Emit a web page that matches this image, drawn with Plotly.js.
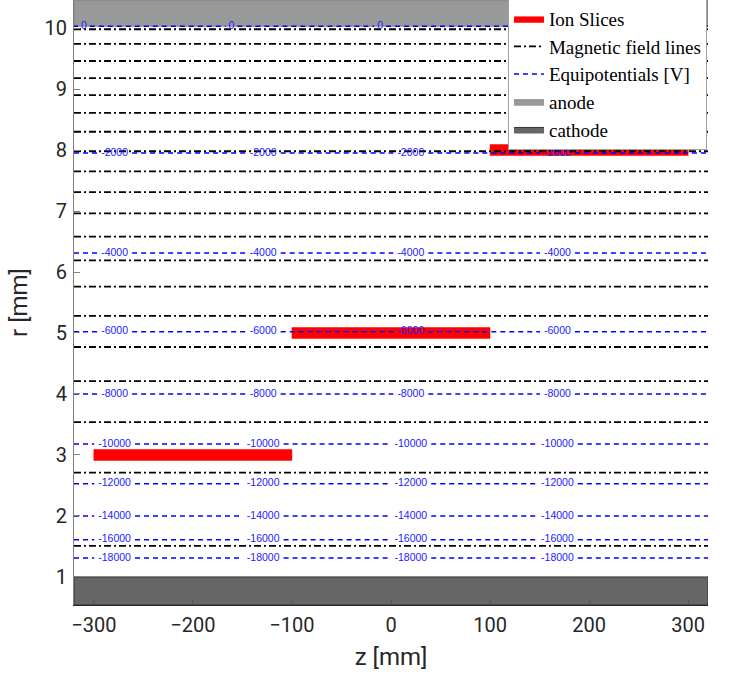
<!DOCTYPE html>
<html>
<head>
<meta charset="utf-8">
<script src="https://cdn.plot.ly/plotly-3.0.1.min.js"></script>
<style>html,body{margin:0;padding:0;background:#fff;} #chart{width:740px;height:674px;}</style>
</head>
<body>
<div id="chart"></div>
<script>
// ---- data ----
const zRange = [-320, 320];                 // axial extent [mm]
const rRange = [0.54, 10.46];               // radial extent [mm]
const anodeR = [10.03, 10.46];
const cathodeR = [0.54, 1.0];

const ionZStart = [-300, -100, 100];
const ionZEnd = [-100, 100, 300];
const ionR = [3.0, 5.0, 8.0];
const ionHalfThickness = 0.09;

const fieldR = [9.98, 9.74, 9.46, 9.18, 8.90, 8.61, 8.30, 7.98, 7.65, 7.31,
                6.96, 6.58, 6.19, 5.76, 5.28, 4.77, 4.21, 3.54, 2.71, 1.51];

const potLevels = [0, -2000, -4000, -6000, -8000, -10000, -12000, -14000, -16000, -18000];
const potR = [10.03, 7.95, 6.31, 5.02, 4.00, 3.18, 2.53, 2.00, 1.61, 1.31];
const labelZZero = [-310, -161, -11, 138];
const labelZOther = [-279, -129, 20, 168];

const xTicks = [-300, -200, -100, 0, 100, 200, 300];
const yTicks = [1, 2, 3, 4, 5, 6, 7, 8, 9, 10];

// ---- build traces ----
function rectPoly(z0, z1, r0, r1) {
  return {x: [z0, z1, z1, z0, z0], y: [r0, r0, r1, r1, r0]};
}
const anodePoly = rectPoly(zRange[0], zRange[1], anodeR[0], anodeR[1]);
const cathodePoly = rectPoly(zRange[0], zRange[1], cathodeR[0], cathodeR[1]);

const ionX = [], ionY = [];
for (let i = 0; i < ionR.length; i++) {
  const p = rectPoly(ionZStart[i], ionZEnd[i], ionR[i] - ionHalfThickness, ionR[i] + ionHalfThickness);
  ionX.push(...p.x, null); ionY.push(...p.y, null);
}

const fieldX = [], fieldY = [];
fieldR.forEach(r => { fieldX.push(zRange[0], zRange[1], null); fieldY.push(r, r, null); });

// equipotential lines, broken where their labels sit
const pxPerZ = 634 / (zRange[1] - zRange[0]);
const potX = [], potY = [], labX = [], labY = [], labT = [];
potLevels.forEach((v, i) => {
  const txt = String(v);
  const hw = (txt.length * 5.8 / 2 + 3) / pxPerZ;
  const lz = v === 0 ? labelZZero : labelZOther;
  let start = zRange[0];
  lz.forEach(z => {
    potX.push(start, z - hw, null); potY.push(potR[i], potR[i], null);
    start = z + hw;
    labX.push(z); labY.push(potR[i]); labT.push(txt);
  });
  potX.push(start, zRange[1], null); potY.push(potR[i], potR[i], null);
});

const traces = [
  {x: anodePoly.x, y: anodePoly.y, type: 'scatter', mode: 'lines', fill: 'toself',
   fillcolor: '#999999', line: {color: '#7a7a7a', width: 0.8}, name: 'anode', legendrank: 4, hoverinfo: 'skip'},
  {x: cathodePoly.x, y: cathodePoly.y, type: 'scatter', mode: 'lines', fill: 'toself',
   fillcolor: '#666666', line: {color: '#333333', width: 1}, name: 'cathode', legendrank: 5, hoverinfo: 'skip'},
  {x: ionX, y: ionY, type: 'scatter', mode: 'lines', fill: 'toself',
   fillcolor: '#ff0000', line: {color: '#ff0000', width: 0.5}, name: 'Ion Slices', legendrank: 1, hoverinfo: 'skip'},
  {x: fieldX, y: fieldY, type: 'scatter', mode: 'lines',
   line: {color: '#000000', width: 1.8, dash: '7px,3px,2px,3px'}, name: 'Magnetic field lines', legendrank: 2, hoverinfo: 'skip'},
  {x: potX, y: potY, type: 'scatter', mode: 'lines',
   line: {color: '#0000ff', width: 1.5, dash: '5px,4px'}, name: 'Equipotentials [V]', legendrank: 3, hoverinfo: 'skip'},
  {x: labX, y: labY, text: labT, type: 'scatter', mode: 'text', showlegend: false,
   textfont: {family: 'Liberation Sans, Arial, sans-serif', size: 10.5, color: '#1a1aff'}, hoverinfo: 'skip'}
];

const tickFont = {family: 'Roboto, sans-serif', size: 20, color: '#262626'};
const layout = {
  width: 740, height: 674,
  margin: {l: 74, r: 32, t: 0, b: 69, autoexpand: false},
  paper_bgcolor: '#ffffff', plot_bgcolor: '#ffffff',
  showlegend: true,
  legend: {x: 0.6845, y: 1.002, xanchor: 'left', yanchor: 'top',
           bgcolor: '#ffffff', bordercolor: '#a0a0a0', borderwidth: 1,
           font: {family: 'Liberation Serif, DejaVu Serif, serif', size: 19, color: '#000000'},
           tracegroupgap: 0, itemwidth: 30, entrywidth: 190, entrywidthmode: 'pixels'},
  xaxis: {range: zRange, tickvals: xTicks, ticks: 'inside', ticklen: 6, tickcolor: '#555555',
          showline: true, linecolor: '#262626', linewidth: 1, showgrid: false, zeroline: false,
          tickfont: tickFont, ticklabelstandoff: 2,
          title: {text: 'z [mm]', font: {family: 'Roboto, sans-serif', size: 24, color: '#262626'}, standoff: 12}},
  yaxis: {range: rRange, tickvals: yTicks, ticks: 'inside', ticklen: 6, tickcolor: '#808080',
          showline: true, linecolor: '#808080', linewidth: 1, showgrid: false, zeroline: false,
          tickfont: tickFont, ticklabelstandoff: 2,
          title: {text: 'r [mm]', font: {family: 'Roboto, sans-serif', size: 24, color: '#262626'}, standoff: 10}}
};

Plotly.newPlot('chart', traces, layout, {displayModeBar: false, staticPlot: true});
</script>
</body>
</html>
